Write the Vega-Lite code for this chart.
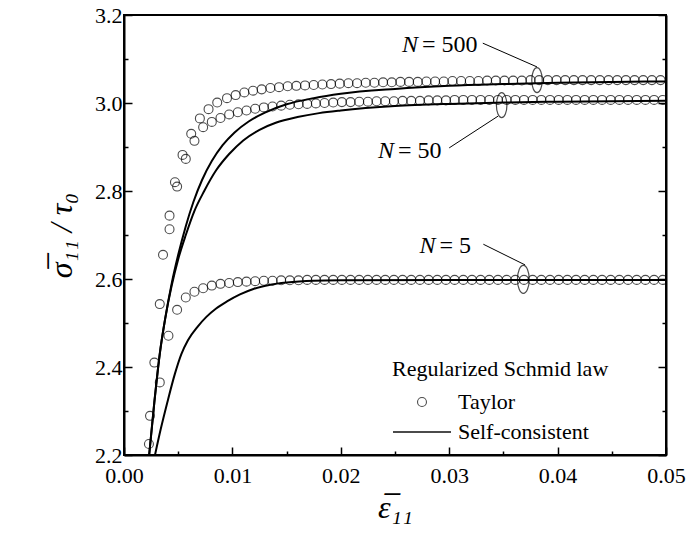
{
  "$schema": "https://vega.github.io/schema/vega-lite/v6.json",
  "width": 542,
  "height": 440,
  "autosize": {"type": "none"},
  "padding": {"left": 124, "top": 15, "right": 25, "bottom": 91},
  "background": "white",
  "config": {
    "view": {"stroke": "black", "strokeWidth": 2},
    "font": "Liberation Serif",
    "axis": {
      "domainColor": "black", "domainWidth": 2, "tickColor": "black", "tickWidth": 1.5,
      "labelFont": "Liberation Serif", "labelFontSize": 22, "labelColor": "black",
      "grid": false, "titleFont": "Liberation Serif", "titleFontWeight": "normal", "titleColor": "black",
      "labelOverlap": false, "labelFlush": false, "labelBound": false
    }
  },
  "datasets": {
    "sc": [
      {"n": "500", "x": 0.00232, "y": 2.20}, {"n": "500", "x": 0.0028, "y": 2.32}, {"n": "500", "x": 0.0033, "y": 2.43},
      {"n": "500", "x": 0.0038, "y": 2.51}, {"n": "500", "x": 0.0044, "y": 2.59}, {"n": "500", "x": 0.0050, "y": 2.655},
      {"n": "500", "x": 0.0057, "y": 2.72}, {"n": "500", "x": 0.0064, "y": 2.775}, {"n": "500", "x": 0.0072, "y": 2.825},
      {"n": "500", "x": 0.0081, "y": 2.868}, {"n": "500", "x": 0.0091, "y": 2.904}, {"n": "500", "x": 0.0102, "y": 2.933},
      {"n": "500", "x": 0.0115, "y": 2.958}, {"n": "500", "x": 0.0130, "y": 2.978}, {"n": "500", "x": 0.0150, "y": 2.997},
      {"n": "500", "x": 0.0175, "y": 3.011}, {"n": "500", "x": 0.020, "y": 3.021}, {"n": "500", "x": 0.025, "y": 3.032},
      {"n": "500", "x": 0.030, "y": 3.039}, {"n": "500", "x": 0.035, "y": 3.043}, {"n": "500", "x": 0.040, "y": 3.046},
      {"n": "500", "x": 0.045, "y": 3.048}, {"n": "500", "x": 0.050, "y": 3.049},
      {"n": "50", "x": 0.00232, "y": 2.20}, {"n": "50", "x": 0.0028, "y": 2.32}, {"n": "50", "x": 0.0033, "y": 2.43},
      {"n": "50", "x": 0.0038, "y": 2.51}, {"n": "50", "x": 0.0044, "y": 2.585}, {"n": "50", "x": 0.0050, "y": 2.645},
      {"n": "50", "x": 0.0057, "y": 2.70}, {"n": "50", "x": 0.0065, "y": 2.755}, {"n": "50", "x": 0.0074, "y": 2.80},
      {"n": "50", "x": 0.0085, "y": 2.847}, {"n": "50", "x": 0.0097, "y": 2.884}, {"n": "50", "x": 0.0110, "y": 2.915},
      {"n": "50", "x": 0.0125, "y": 2.939}, {"n": "50", "x": 0.0140, "y": 2.955}, {"n": "50", "x": 0.016, "y": 2.968},
      {"n": "50", "x": 0.018, "y": 2.977}, {"n": "50", "x": 0.020, "y": 2.983}, {"n": "50", "x": 0.025, "y": 2.993},
      {"n": "50", "x": 0.030, "y": 2.998}, {"n": "50", "x": 0.035, "y": 3.001}, {"n": "50", "x": 0.040, "y": 3.003},
      {"n": "50", "x": 0.050, "y": 3.005},
      {"n": "5", "x": 0.00286, "y": 2.20}, {"n": "5", "x": 0.0034, "y": 2.26}, {"n": "5", "x": 0.0040, "y": 2.32},
      {"n": "5", "x": 0.0047, "y": 2.385}, {"n": "5", "x": 0.0053, "y": 2.43}, {"n": "5", "x": 0.0059, "y": 2.461},
      {"n": "5", "x": 0.0068, "y": 2.492}, {"n": "5", "x": 0.0076, "y": 2.514}, {"n": "5", "x": 0.0085, "y": 2.533},
      {"n": "5", "x": 0.0095, "y": 2.549}, {"n": "5", "x": 0.0107, "y": 2.565}, {"n": "5", "x": 0.0120, "y": 2.578},
      {"n": "5", "x": 0.0135, "y": 2.587}, {"n": "5", "x": 0.015, "y": 2.592}, {"n": "5", "x": 0.0175, "y": 2.596},
      {"n": "5", "x": 0.020, "y": 2.597}, {"n": "5", "x": 0.030, "y": 2.598}, {"n": "5", "x": 0.050, "y": 2.598}
    ],
    "taylor": [
      {"m": "Taylor", "x": 0.0023, "y": 2.225}, {"m": "Taylor", "x": 0.0033, "y": 2.365}, {"m": "Taylor", "x": 0.0041, "y": 2.471},
      {"m": "Taylor", "x": 0.0049, "y": 2.530}, {"m": "Taylor", "x": 0.0057, "y": 2.558}, {"m": "Taylor", "x": 0.0065, "y": 2.571},
      {"m": "Taylor", "x": 0.0073, "y": 2.579}, {"m": "Taylor", "x": 0.0081, "y": 2.585}, {"m": "Taylor", "x": 0.0089, "y": 2.589},
      {"m": "Taylor", "x": 0.0097, "y": 2.591}, {"m": "Taylor", "x": 0.0105, "y": 2.593}, {"m": "Taylor", "x": 0.0113, "y": 2.594},
      {"m": "Taylor", "x": 0.0121, "y": 2.595}, {"m": "Taylor", "x": 0.0129, "y": 2.596}, {"m": "Taylor", "x": 0.0137, "y": 2.596},
      {"m": "Taylor", "x": 0.0145, "y": 2.597}, {"m": "Taylor", "x": 0.0153, "y": 2.597}, {"m": "Taylor", "x": 0.0161, "y": 2.597},
      {"m": "Taylor", "x": 0.0169, "y": 2.598}, {"m": "Taylor", "x": 0.0177, "y": 2.598}, {"m": "Taylor", "x": 0.0185, "y": 2.598},
      {"m": "Taylor", "x": 0.0193, "y": 2.598}, {"m": "Taylor", "x": 0.0201, "y": 2.598}, {"m": "Taylor", "x": 0.0209, "y": 2.598},
      {"m": "Taylor", "x": 0.0217, "y": 2.598}, {"m": "Taylor", "x": 0.0225, "y": 2.598}, {"m": "Taylor", "x": 0.0233, "y": 2.598},
      {"m": "Taylor", "x": 0.0241, "y": 2.598}, {"m": "Taylor", "x": 0.0249, "y": 2.598}, {"m": "Taylor", "x": 0.0257, "y": 2.598},
      {"m": "Taylor", "x": 0.0265, "y": 2.598}, {"m": "Taylor", "x": 0.0273, "y": 2.598}, {"m": "Taylor", "x": 0.0281, "y": 2.598},
      {"m": "Taylor", "x": 0.0289, "y": 2.598}, {"m": "Taylor", "x": 0.0297, "y": 2.598}, {"m": "Taylor", "x": 0.0305, "y": 2.598},
      {"m": "Taylor", "x": 0.0313, "y": 2.598}, {"m": "Taylor", "x": 0.0321, "y": 2.598}, {"m": "Taylor", "x": 0.0329, "y": 2.598},
      {"m": "Taylor", "x": 0.0337, "y": 2.598}, {"m": "Taylor", "x": 0.0345, "y": 2.598}, {"m": "Taylor", "x": 0.0353, "y": 2.598},
      {"m": "Taylor", "x": 0.0361, "y": 2.598}, {"m": "Taylor", "x": 0.0369, "y": 2.598}, {"m": "Taylor", "x": 0.0377, "y": 2.598},
      {"m": "Taylor", "x": 0.0385, "y": 2.598}, {"m": "Taylor", "x": 0.0393, "y": 2.598}, {"m": "Taylor", "x": 0.0401, "y": 2.598},
      {"m": "Taylor", "x": 0.0409, "y": 2.598}, {"m": "Taylor", "x": 0.0417, "y": 2.598}, {"m": "Taylor", "x": 0.0425, "y": 2.598},
      {"m": "Taylor", "x": 0.0433, "y": 2.598}, {"m": "Taylor", "x": 0.0441, "y": 2.598}, {"m": "Taylor", "x": 0.0449, "y": 2.598},
      {"m": "Taylor", "x": 0.0457, "y": 2.598}, {"m": "Taylor", "x": 0.0465, "y": 2.598}, {"m": "Taylor", "x": 0.0473, "y": 2.598},
      {"m": "Taylor", "x": 0.0481, "y": 2.598}, {"m": "Taylor", "x": 0.0489, "y": 2.598}, {"m": "Taylor", "x": 0.0497, "y": 2.598},

      {"m": "Taylor", "x": 0.0024, "y": 2.289}, {"m": "Taylor", "x": 0.0033, "y": 2.543}, {"m": "Taylor", "x": 0.0042, "y": 2.713},
      {"m": "Taylor", "x": 0.0049, "y": 2.810}, {"m": "Taylor", "x": 0.0057, "y": 2.873}, {"m": "Taylor", "x": 0.0065, "y": 2.914},
      {"m": "Taylor", "x": 0.0073, "y": 2.945}, {"m": "Taylor", "x": 0.0081, "y": 2.957}, {"m": "Taylor", "x": 0.0089, "y": 2.966},
      {"m": "Taylor", "x": 0.0097, "y": 2.974}, {"m": "Taylor", "x": 0.0105, "y": 2.979}, {"m": "Taylor", "x": 0.0113, "y": 2.983},
      {"m": "Taylor", "x": 0.0121, "y": 2.987}, {"m": "Taylor", "x": 0.0129, "y": 2.990}, {"m": "Taylor", "x": 0.0137, "y": 2.992},
      {"m": "Taylor", "x": 0.0145, "y": 2.994}, {"m": "Taylor", "x": 0.0153, "y": 2.996}, {"m": "Taylor", "x": 0.0161, "y": 2.997},
      {"m": "Taylor", "x": 0.0169, "y": 2.998}, {"m": "Taylor", "x": 0.0177, "y": 2.999}, {"m": "Taylor", "x": 0.0185, "y": 3.000},
      {"m": "Taylor", "x": 0.0193, "y": 3.001}, {"m": "Taylor", "x": 0.0201, "y": 3.002}, {"m": "Taylor", "x": 0.0209, "y": 3.002},
      {"m": "Taylor", "x": 0.0217, "y": 3.003}, {"m": "Taylor", "x": 0.0225, "y": 3.003}, {"m": "Taylor", "x": 0.0233, "y": 3.004},
      {"m": "Taylor", "x": 0.0241, "y": 3.004}, {"m": "Taylor", "x": 0.0249, "y": 3.004}, {"m": "Taylor", "x": 0.0257, "y": 3.005},
      {"m": "Taylor", "x": 0.0265, "y": 3.005}, {"m": "Taylor", "x": 0.0273, "y": 3.005}, {"m": "Taylor", "x": 0.0281, "y": 3.006},
      {"m": "Taylor", "x": 0.0289, "y": 3.006}, {"m": "Taylor", "x": 0.0297, "y": 3.006}, {"m": "Taylor", "x": 0.0305, "y": 3.007},
      {"m": "Taylor", "x": 0.0313, "y": 3.007}, {"m": "Taylor", "x": 0.0321, "y": 3.007}, {"m": "Taylor", "x": 0.0329, "y": 3.007},
      {"m": "Taylor", "x": 0.0337, "y": 3.007}, {"m": "Taylor", "x": 0.0345, "y": 3.007}, {"m": "Taylor", "x": 0.0353, "y": 3.007},
      {"m": "Taylor", "x": 0.0361, "y": 3.007}, {"m": "Taylor", "x": 0.0369, "y": 3.007}, {"m": "Taylor", "x": 0.0377, "y": 3.007},
      {"m": "Taylor", "x": 0.0385, "y": 3.007}, {"m": "Taylor", "x": 0.0393, "y": 3.007}, {"m": "Taylor", "x": 0.0401, "y": 3.007},
      {"m": "Taylor", "x": 0.0409, "y": 3.007}, {"m": "Taylor", "x": 0.0417, "y": 3.007}, {"m": "Taylor", "x": 0.0425, "y": 3.007},
      {"m": "Taylor", "x": 0.0433, "y": 3.007}, {"m": "Taylor", "x": 0.0441, "y": 3.007}, {"m": "Taylor", "x": 0.0449, "y": 3.007},
      {"m": "Taylor", "x": 0.0457, "y": 3.007}, {"m": "Taylor", "x": 0.0465, "y": 3.007}, {"m": "Taylor", "x": 0.0473, "y": 3.007},
      {"m": "Taylor", "x": 0.0481, "y": 3.007}, {"m": "Taylor", "x": 0.0489, "y": 3.007}, {"m": "Taylor", "x": 0.0497, "y": 3.007},

      {"m": "Taylor", "x": 0.0028, "y": 2.410}, {"m": "Taylor", "x": 0.0036, "y": 2.655}, {"m": "Taylor", "x": 0.0042, "y": 2.744},
      {"m": "Taylor", "x": 0.0047, "y": 2.820}, {"m": "Taylor", "x": 0.0054, "y": 2.882}, {"m": "Taylor", "x": 0.0062, "y": 2.930},
      {"m": "Taylor", "x": 0.0070, "y": 2.965}, {"m": "Taylor", "x": 0.0078, "y": 2.986}, {"m": "Taylor", "x": 0.0086, "y": 3.001},
      {"m": "Taylor", "x": 0.0095, "y": 3.011}, {"m": "Taylor", "x": 0.0103, "y": 3.018}, {"m": "Taylor", "x": 0.0111, "y": 3.024},
      {"m": "Taylor", "x": 0.0119, "y": 3.028}, {"m": "Taylor", "x": 0.0127, "y": 3.031}, {"m": "Taylor", "x": 0.0135, "y": 3.034},
      {"m": "Taylor", "x": 0.0143, "y": 3.036}, {"m": "Taylor", "x": 0.0151, "y": 3.038}, {"m": "Taylor", "x": 0.0159, "y": 3.039},
      {"m": "Taylor", "x": 0.0167, "y": 3.040}, {"m": "Taylor", "x": 0.0175, "y": 3.041}, {"m": "Taylor", "x": 0.0183, "y": 3.042},
      {"m": "Taylor", "x": 0.0191, "y": 3.043}, {"m": "Taylor", "x": 0.0199, "y": 3.044}, {"m": "Taylor", "x": 0.0207, "y": 3.045},
      {"m": "Taylor", "x": 0.0215, "y": 3.045}, {"m": "Taylor", "x": 0.0223, "y": 3.046}, {"m": "Taylor", "x": 0.0231, "y": 3.046},
      {"m": "Taylor", "x": 0.0239, "y": 3.047}, {"m": "Taylor", "x": 0.0247, "y": 3.047}, {"m": "Taylor", "x": 0.0255, "y": 3.048},
      {"m": "Taylor", "x": 0.0263, "y": 3.048}, {"m": "Taylor", "x": 0.0271, "y": 3.048}, {"m": "Taylor", "x": 0.0279, "y": 3.049},
      {"m": "Taylor", "x": 0.0287, "y": 3.049}, {"m": "Taylor", "x": 0.0295, "y": 3.049}, {"m": "Taylor", "x": 0.0303, "y": 3.050},
      {"m": "Taylor", "x": 0.0311, "y": 3.050}, {"m": "Taylor", "x": 0.0319, "y": 3.050}, {"m": "Taylor", "x": 0.0327, "y": 3.050},
      {"m": "Taylor", "x": 0.0335, "y": 3.051}, {"m": "Taylor", "x": 0.0343, "y": 3.051}, {"m": "Taylor", "x": 0.0351, "y": 3.051},
      {"m": "Taylor", "x": 0.0359, "y": 3.051}, {"m": "Taylor", "x": 0.0367, "y": 3.051}, {"m": "Taylor", "x": 0.0375, "y": 3.052},
      {"m": "Taylor", "x": 0.0383, "y": 3.052}, {"m": "Taylor", "x": 0.0391, "y": 3.052}, {"m": "Taylor", "x": 0.0399, "y": 3.052},
      {"m": "Taylor", "x": 0.0407, "y": 3.052}, {"m": "Taylor", "x": 0.0415, "y": 3.052}, {"m": "Taylor", "x": 0.0423, "y": 3.052},
      {"m": "Taylor", "x": 0.0431, "y": 3.052}, {"m": "Taylor", "x": 0.0439, "y": 3.052}, {"m": "Taylor", "x": 0.0447, "y": 3.052},
      {"m": "Taylor", "x": 0.0455, "y": 3.052}, {"m": "Taylor", "x": 0.0463, "y": 3.052}, {"m": "Taylor", "x": 0.0471, "y": 3.052},
      {"m": "Taylor", "x": 0.0479, "y": 3.052}, {"m": "Taylor", "x": 0.0487, "y": 3.052}, {"m": "Taylor", "x": 0.0495, "y": 3.052}
    ],
    "ann": [
      {"label": "= 500", "x": 0.02731, "y": 3.1166, "ex": 0.0381, "ey": 3.052, "es": 625, "lx1": 0.0331, "ly1": 3.136, "lx2": 0.0381, "ly2": 3.082},
      {"label": "= 50", "x": 0.02509, "y": 2.8757, "ex": 0.03484, "ey": 2.995, "es": 625, "lx1": 0.0300, "ly1": 2.898, "lx2": 0.0345, "ly2": 2.970},
      {"label": "= 5", "x": 0.02892, "y": 2.6584, "ex": 0.03684, "ey": 2.599, "es": 784, "lx1": 0.03315, "ly1": 2.679, "lx2": 0.0370, "ly2": 2.632}
    ]
  },
  "layer": [
    {
      "data": {"name": "sc"},
      "mark": {"type": "line", "color": "black", "strokeWidth": 2, "interpolate": "monotone", "clip": true},
      "encoding": {
        "x": {
          "field": "x", "type": "quantitative", "scale": {"domain": [0, 0.05]}, "title": "ε̅₁₁",
          "axis": {
            "values": [0, 0.005, 0.01, 0.015, 0.02, 0.025, 0.03, 0.035, 0.04, 0.045, 0.05],
            "labelExpr": "round(datum.value*1000) % 10 === 0 ? format(datum.value, '.2f') : ''",
            "tickSize": {"condition": {"test": "round(datum.value*1000) % 10 === 0", "value": -8}, "value": -4},
            "labelPadding": 18, "titleFontSize": 32, "titleFontStyle": "italic", "titlePadding": 2
          }
        },
        "y": {
          "field": "y", "type": "quantitative", "scale": {"domain": [2.2, 3.2]}, "title": "σ̅₁₁ / τ₀",
          "axis": {
            "values": [2.2, 2.3, 2.4, 2.5, 2.6, 2.7, 2.8, 2.9, 3.0, 3.1, 3.2],
            "labelExpr": "round(datum.value*10) % 2 === 0 ? format(datum.value, '.1f') : ''",
            "tickSize": {"condition": {"test": "round(datum.value*10) % 2 === 0", "value": -8}, "value": -4},
            "labelPadding": 10, "titleFontSize": 32, "titleFontStyle": "italic", "titlePadding": 16
          }
        },
        "detail": {"field": "n"}
      }
    },
    {
      "data": {"name": "taylor"},
      "mark": {"type": "point", "filled": false, "color": "black", "clip": true},
      "encoding": {
        "x": {"field": "x", "type": "quantitative", "title": "ε̅₁₁"},
        "y": {"field": "y", "type": "quantitative", "axis": null},
        "shape": {
          "field": "m", "type": "nominal",
          "scale": {"domain": ["Taylor", "Self-consistent"], "range": ["circle", "stroke"]},
          "legend": {
            "title": "Regularized Schmid law", "orient": "none", "legendX": 268, "legendY": 344,
            "titleFont": "Liberation Serif", "titleFontSize": 22, "titleFontWeight": "normal", "titleColor": "black",
            "labelFont": "Liberation Serif", "labelFontSize": 22, "labelColor": "black",
            "titleLimit": 500, "labelLimit": 400, "clipHeight": 30,
            "symbolStrokeColor": "black", "symbolFillColor": "transparent",
            "padding": 0, "rowPadding": 0, "titlePadding": 6, "labelOffset": 6
          }
        },
        "size": {
          "field": "m", "type": "nominal",
          "scale": {"domain": ["Taylor", "Self-consistent"], "range": [80, 3364]},
          "legend": {
            "title": "Regularized Schmid law", "orient": "none", "legendX": 268, "legendY": 344
          }
        },
        "strokeWidth": {
          "field": "m", "type": "nominal",
          "scale": {"domain": ["Taylor", "Self-consistent"], "range": [1.1, 2]},
          "legend": {
            "title": "Regularized Schmid law", "orient": "none", "legendX": 268, "legendY": 344
          }
        }
      }
    },
    {
      "data": {"name": "ann"},
      "mark": {"type": "rule", "color": "black", "strokeWidth": 1},
      "encoding": {
        "x": {"field": "lx1", "type": "quantitative", "title": "ε̅₁₁"},
        "x2": {"field": "lx2"},
        "y": {
          "field": "ly1", "type": "quantitative",
          "axis": {
            "orient": "right", "title": null, "labels": false,
            "values": [2.2, 2.3, 2.4, 2.5, 2.6, 2.7, 2.8, 2.9, 3.0, 3.1, 3.2],
            "tickSize": {"condition": {"test": "round(datum.value*10) % 2 === 0", "value": -8}, "value": -4}
          }
        },
        "y2": {"field": "ly2"}
      }
    },
    {
      "data": {"name": "ann"},
      "mark": {"type": "point", "shape": "M0,-1 A0.42,1 0 1,1 0,1 A0.42,1 0 1,1 0,-1 Z", "filled": false, "color": "black", "strokeWidth": 1.2},
      "encoding": {
        "x": {"field": "ex", "type": "quantitative", "title": "ε̅₁₁"},
        "y": {"field": "ey", "type": "quantitative", "axis": null},
        "size": {"field": "es", "type": "quantitative", "scale": null, "legend": null}
      }
    },
    {
      "data": {"name": "ann"},
      "mark": {"type": "text", "text": "N", "font": "Liberation Serif", "fontStyle": "italic", "fontSize": 24, "align": "right", "baseline": "alphabetic", "dx": -2, "color": "black"},
      "encoding": {
        "x": {"field": "x", "type": "quantitative", "title": "ε̅₁₁"},
        "y": {"field": "y", "type": "quantitative", "axis": null}
      }
    },
    {
      "data": {"name": "ann"},
      "mark": {"type": "text", "font": "Liberation Serif", "fontSize": 24, "align": "left", "baseline": "alphabetic", "dx": 2, "color": "black"},
      "encoding": {
        "x": {"field": "x", "type": "quantitative", "title": "ε̅₁₁"},
        "y": {"field": "y", "type": "quantitative", "axis": null},
        "text": {"field": "label"}
      }
    }
  ],
  "resolve": {"axis": {"y": "independent"}}
}
